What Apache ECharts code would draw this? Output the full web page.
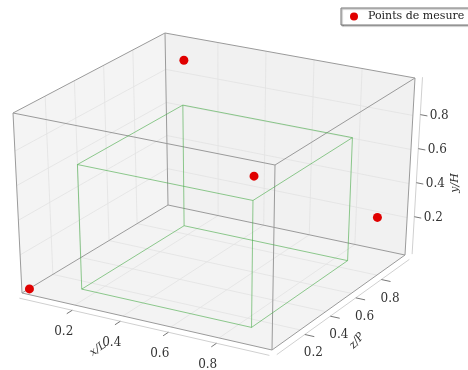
<!DOCTYPE html>
<html>
<head>
<meta charset="utf-8">
<script src="https://cdn.jsdelivr.net/npm/echarts@6/dist/echarts.min.js"></script>
<style>
  html, body { margin: 0; padding: 0; background: #fff; }
  #chart { width: 468px; height: 370px; }
</style>
</head>
<body>
<div id="chart"></div>
<script>
// axis limits (normalised room coordinates)
const xLim = [-0.02, 1.02];
const yLim = [-0.02, 1.02];
const zLim = [-0.02, 1.02];
const tickValues = [0.2, 0.4, 0.6, 0.8];
const tickLabels = ['0.2', '0.4', '0.6', '0.8'];

// measurement points
const pointX = [0, 0.1, 0.9, 1.0];
const pointY = [0, 0.92, 0.89, 0.3];
const pointZ = [0, 0.95, 0.05, 0.82];

// green inner volume
const innerX = [0.16, 0.87];
const innerY = [0, 0.72];
const innerZ = [0.1, 0.84];

// screen position of the 8 corners of the axes box, key = x y z (0 = min, 1 = max)
const corner = {
    '000': [22, 293], '100': [272, 350], '001': [168, 205], '101': [405, 255],
    '010': [13, 113], '110': [275, 165], '011': [165, 33], '111': [415, 78]
};

// trilinear projection of a data point into the box drawn on screen
function project(x, y, z) {
    const u = (x - xLim[0]) / (xLim[1] - xLim[0]);
    const v = (y - yLim[0]) / (yLim[1] - yLim[0]);
    const w = (z - zLim[0]) / (zLim[1] - zLim[0]);
    const out = [0, 0];
    for (let a = 0; a < 2; a++)
        for (let b = 0; b < 2; b++)
            for (let d = 0; d < 2; d++) {
                const k = (a ? u : 1 - u) * (b ? v : 1 - v) * (d ? w : 1 - w);
                const c = corner['' + a + b + d];
                out[0] += k * c[0];
                out[1] += k * c[1];
            }
    return out;
}

function boxEdges(xr, yr, zr) {
    const e = [];
    yr.forEach(y => zr.forEach(z => e.push([xr[0], y, z, xr[1], y, z])));
    xr.forEach(x => zr.forEach(z => e.push([x, yr[0], z, x, yr[1], z])));
    xr.forEach(x => yr.forEach(y => e.push([x, y, zr[0], x, y, zr[1]])));
    return e;
}

const panes = [
    [xLim[0], yLim[0], zLim[0], xLim[0], yLim[0], zLim[1], xLim[0], yLim[1], zLim[1], xLim[0], yLim[1], zLim[0]],
    [xLim[0], yLim[0], zLim[1], xLim[1], yLim[0], zLim[1], xLim[1], yLim[1], zLim[1], xLim[0], yLim[1], zLim[1]],
    [xLim[0], yLim[0], zLim[0], xLim[1], yLim[0], zLim[0], xLim[1], yLim[0], zLim[1], xLim[0], yLim[0], zLim[1]]
];
const paneColors = ['#f4f4f4', '#f1f1f1', '#f3f3f3'];

const gridLines = [];
tickValues.forEach(t => {
    gridLines.push([xLim[0], yLim[0], t, xLim[0], yLim[1], t]);
    gridLines.push([xLim[0], t, zLim[0], xLim[0], t, zLim[1]]);
    gridLines.push([t, yLim[0], zLim[1], t, yLim[1], zLim[1]]);
    gridLines.push([xLim[0], t, zLim[1], xLim[1], t, zLim[1]]);
    gridLines.push([t, yLim[0], zLim[0], t, yLim[0], zLim[1]]);
    gridLines.push([xLim[0], yLim[0], t, xLim[1], yLim[0], t]);
});

const off = 0.02;
const axisLines = [
    [xLim[0], yLim[0] - off, zLim[0] - off, xLim[1], yLim[0] - off, zLim[0] - off],
    [xLim[1] + off, yLim[0] - off, zLim[0], xLim[1] + off, yLim[0] - off, zLim[1]],
    [xLim[1] + off, yLim[0], zLim[1] + off, xLim[1] + off, yLim[1], zLim[1] + off]
];

const segment = (color, width) => (params, api) => {
    const a = project(api.value(0), api.value(1), api.value(2));
    const b = project(api.value(3), api.value(4), api.value(5));
    return {
        type: 'line',
        shape: { x1: a[0], y1: a[1], x2: b[0], y2: b[1] },
        style: { stroke: color, lineWidth: width }
    };
};

const tickFont = '12px "DejaVu Serif"';
// one tick series per axis: where the tick sits, where it points, label offset
const tickSeries = (toPoint, labelDx, labelDy) => ({
    type: 'custom',
    coordinateSystem: 'none',
    silent: true,
    z: 4,
    data: tickValues.map(t => [t]),
    renderItem(params, api) {
        const t = api.value(0);
        const a = project(...toPoint(t, 0));
        const b = project(...toPoint(t, 1));
        const base = project(...toPoint(t, -1));
        return {
            type: 'group',
            children: [
                { type: 'line', shape: { x1: a[0], y1: a[1], x2: b[0], y2: b[1] }, style: { stroke: '#777', lineWidth: 1 } },
                {
                    type: 'text', x: base[0] + labelDx, y: base[1] + labelDy,
                    style: { text: tickLabels[params.dataIndex], font: tickFont, fill: '#333', align: 'center', verticalAlign: 'middle' }
                }
            ]
        };
    }
});

const chart = echarts.init(document.getElementById('chart'));
chart.setOption({
    animation: false,
    legend: {
        data: ['Points de mesure'],
        left: 341,
        top: 8,
        icon: 'circle',
        itemWidth: 18,
        itemHeight: 8,
        padding: [3, 8, 3, 9],
        backgroundColor: '#fff',
        borderColor: '#777',
        borderWidth: 1,
        borderRadius: 0,
        shadowColor: 'rgba(0,0,0,0.35)',
        shadowOffsetX: 1,
        shadowOffsetY: 1,
        shadowBlur: 1,
        textStyle: { fontFamily: 'DejaVu Serif', fontSize: 11, color: '#222' }
    },
    series: [
        {
            type: 'custom', coordinateSystem: 'none', silent: true, z: 0,
            data: panes,
            renderItem(params, api) {
                const pts = [];
                for (let i = 0; i < 4; i++) pts.push(project(api.value(3 * i), api.value(3 * i + 1), api.value(3 * i + 2)));
                return { type: 'polygon', shape: { points: pts }, style: { fill: paneColors[params.dataIndex], stroke: 'none' } };
            }
        },
        { type: 'custom', coordinateSystem: 'none', silent: true, z: 1, data: gridLines, renderItem: segment('#e2e2e2', 0.8) },
        { type: 'custom', coordinateSystem: 'none', silent: true, z: 2, data: axisLines, renderItem: segment('#d0d0d0', 1) },
        { type: 'custom', coordinateSystem: 'none', silent: true, z: 3, data: boxEdges(xLim, yLim, zLim), renderItem: segment('#9a9a9a', 1) },
        { type: 'custom', coordinateSystem: 'none', silent: true, z: 3, data: boxEdges(innerX, innerY, innerZ), renderItem: segment('rgba(70,170,70,0.6)', 1) },
        tickSeries((t, s) => [t, yLim[0] - off, zLim[0] - off - 0.04 * s], -14, 25),
        tickSeries((t, s) => [xLim[1] + off + 0.04 * s, yLim[0] - off, t], 18, 21),
        tickSeries((t, s) => [xLim[1] + off + 0.03 * s, t, zLim[1] + off], 26, 3),
        {
            name: 'Points de mesure',
            type: 'custom', coordinateSystem: 'none', z: 5,
            itemStyle: { color: '#e00000' },
            data: pointX.map((x, i) => [x, pointY[i], pointZ[i]]),
            renderItem(params, api) {
                const p = project(api.value(0), api.value(1), api.value(2));
                return { type: 'circle', shape: { cx: p[0], cy: p[1], r: 4.5 }, style: { fill: '#e00000' } };
            }
        }
    ],
    graphic: [
        { type: 'text', x: 98, y: 349, rotation: 35 * Math.PI / 180, style: { text: 'x/L', font: 'italic 11px "DejaVu Serif"', fill: '#333', align: 'center', verticalAlign: 'middle' } },
        { type: 'text', x: 357, y: 341, rotation: 50 * Math.PI / 180, style: { text: 'z/P', font: 'italic 11px "DejaVu Serif"', fill: '#333', align: 'center', verticalAlign: 'middle' } },
        { type: 'text', x: 455, y: 183, rotation: Math.PI / 2, style: { text: 'y/H', font: 'italic 11px "DejaVu Serif"', fill: '#333', align: 'center', verticalAlign: 'middle' } }
    ]
});
</script>
</body>
</html>
